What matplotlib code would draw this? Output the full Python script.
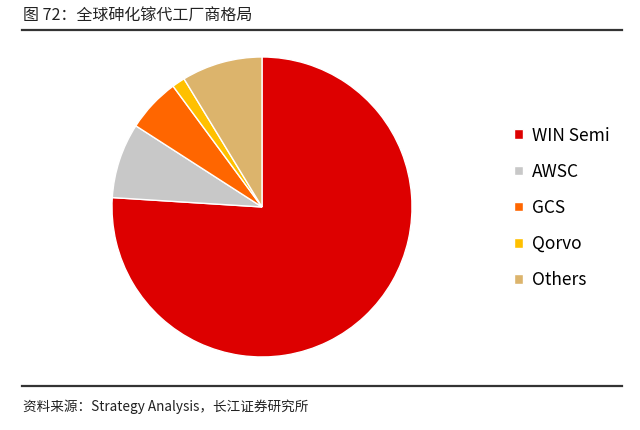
import matplotlib
matplotlib.use("Agg")
import matplotlib.pyplot as plt
from matplotlib.lines import Line2D

plt.rcParams['font.family'] = ['Noto Sans CJK SC', 'DejaVu Sans']

labels = ["WIN Semi", "AWSC", "GCS", "Qorvo", "Others"]
shares = [76.0, 8.1, 5.8, 1.4, 8.7]
colors = ["#DD0000", "#C8C8C8", "#FF6600", "#FFC000", "#DCB46C"]

title = "图 72：全球砷化镓代工厂商格局"
source = "资料来源：Strategy Analysis，长江证券研究所"

fig = plt.figure(figsize=(6.4, 4.3), dpi=100)

ax = fig.add_axes([0.175, 0.1698, 0.46875, 0.6977])
wedges, _ = ax.pie(shares, colors=colors, startangle=90, counterclock=False,
                   wedgeprops=dict(edgecolor="white", linewidth=1))
ax.set_xlim(-1, 1)
ax.set_ylim(-1, 1)
ax.set_aspect("equal")

fig.legend(wedges, labels, loc="upper left", bbox_to_anchor=(0.779, 0.742),
           frameon=False, fontsize=12.5, handlelength=0.5, handleheight=0.5,
           handletextpad=0.5, labelspacing=1.04)

fig.text(0.036, 0.962, title, fontsize=11.5, va="center", ha="left", color="#222222")
fig.add_artist(Line2D([0.034, 0.972], [0.930, 0.930], color="#333333", lw=1.6))
fig.add_artist(Line2D([0.034, 0.972], [0.102, 0.102], color="#333333", lw=1.6))
fig.text(0.036, 0.053, source, fontsize=9.8, va="center", ha="left", color="#222222")

fig.savefig("out.png", dpi=100)
